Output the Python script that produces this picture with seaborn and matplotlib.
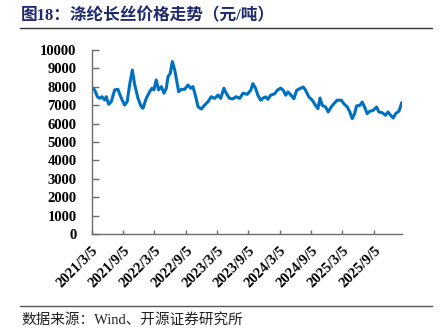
import matplotlib
matplotlib.use("Agg")
import matplotlib.pyplot as plt
import seaborn as sns
import pandas as pd

# 涤纶长丝价格（元/吨）
dates = [
    "2021-03-05", "2021-03-22", "2021-04-07", "2021-04-21", "2021-05-04", "2021-05-20",
    "2021-05-29", "2021-06-12", "2021-06-27", "2021-07-17", "2021-08-05", "2021-08-25",
    "2021-09-13", "2021-09-28", "2021-10-12", "2021-10-28", "2021-11-11", "2021-11-30",
    "2021-12-19", "2021-12-29", "2022-01-17", "2022-02-06", "2022-02-19", "2022-03-03",
    "2022-03-16", "2022-03-30", "2022-04-15", "2022-04-30", "2022-05-14", "2022-05-24",
    "2022-06-06", "2022-06-18", "2022-07-02", "2022-07-11", "2022-07-25", "2022-08-09",
    "2022-08-29", "2022-09-17", "2022-10-03", "2022-10-16", "2022-10-30", "2022-11-15",
    "2022-12-04", "2022-12-24", "2023-01-12", "2023-01-31", "2023-02-20", "2023-03-11",
    "2023-03-27", "2023-04-15", "2023-04-28", "2023-05-18", "2023-06-06", "2023-06-26",
    "2023-07-16", "2023-08-04", "2023-08-29", "2023-09-18", "2023-10-01", "2023-10-17",
    "2023-10-30", "2023-11-15", "2023-11-30", "2023-12-14", "2023-12-27", "2024-01-12",
    "2024-02-05", "2024-02-20", "2024-03-10", "2024-03-26", "2024-04-09", "2024-04-22",
    "2024-05-08", "2024-05-27", "2024-06-12", "2024-07-01", "2024-07-20", "2024-08-03",
    "2024-08-22", "2024-09-11", "2024-09-30", "2024-10-14", "2024-10-26", "2024-11-08",
    "2024-11-28", "2024-12-13", "2024-12-30", "2025-01-15", "2025-02-03", "2025-02-27",
    "2025-03-14", "2025-04-03", "2025-04-18", "2025-05-02", "2025-05-16", "2025-05-27",
    "2025-06-16", "2025-06-29", "2025-07-13", "2025-07-28", "2025-08-13", "2025-09-01",
    "2025-09-21", "2025-10-04", "2025-10-24", "2025-11-12", "2025-11-26", "2025-12-12",
    "2025-12-27", "2026-01-10", "2026-01-29", "2026-02-15",
]
prices = [
    7970, 7830, 7460, 7370, 7460, 7280,
    7460, 7050, 7190, 7830, 7860, 7370,
    7010, 7190, 8100, 8910, 8100, 7370,
    6920, 6830, 7370, 7730, 7920, 7830,
    8370, 7830, 8010, 7650, 7920, 8550,
    8730, 9370, 8910, 8460, 7730, 7860,
    7860, 8100, 7920, 8010, 7550, 6920,
    6790, 7010, 7190, 7460, 7370, 7550,
    7370, 7920, 7650, 7370, 7340, 7460,
    7370, 7650, 7590, 7810, 8170, 7900,
    7540, 7270, 7390, 7450, 7320, 7540,
    7620, 7810, 7930, 7810, 7540, 7720,
    7570, 7350, 7810, 7900, 7990, 7810,
    7450, 7270, 6990, 6810, 7390, 6990,
    6900, 6630, 6900, 7080, 7270, 7270,
    7080, 6900, 6630, 6270, 6540, 6960,
    6990, 7170, 6900, 6540, 6670, 6720,
    6900, 6630, 6590, 6450, 6630, 6450,
    6300, 6540, 6670, 7140,
]
tick_dates = ["2021-03-05", "2021-09-05", "2022-03-05", "2022-09-05", "2023-03-05",
              "2023-09-05", "2024-03-05", "2024-09-05", "2025-03-05", "2025-09-05"]
tick_labels = ["2021/3/5", "2021/9/5", "2022/3/5", "2022/9/5", "2023/3/5",
               "2023/9/5", "2024/3/5", "2024/9/5", "2025/3/5", "2025/9/5"]
y_ticks = list(range(0, 10001, 1000))

title_text = "图18：涤纶长丝价格走势（元/吨）"
source_text = "数据来源：Wind、开源证券研究所"

df = pd.DataFrame({"date": pd.to_datetime(dates), "price": prices})

sns.set_theme(style="white")
plt.rcParams["font.family"] = ["Liberation Serif", "Noto Sans CJK SC", "DejaVu Sans"]

fig = plt.figure(figsize=(4.43, 3.34), dpi=100)
ax = fig.add_axes([0.207, 0.2994, 0.700, 0.551])

sns.lineplot(data=df, x="date", y="price", ax=ax, color="#0070C0", linewidth=2.2)

ax.set_xlim(df["date"].iloc[0], df["date"].iloc[-1])
ax.set_ylim(0, 10000)
ax.set_xlabel("")
ax.set_ylabel("")

ax.set_yticks(y_ticks)
ax.set_yticklabels([str(v) for v in y_ticks], fontsize=10.5, fontweight="bold",
                   family="Liberation Serif", color="black")
ax.set_xticks(pd.to_datetime(tick_dates))
ax.set_xticklabels(tick_labels, rotation=45, ha="right", rotation_mode="anchor",
                   fontsize=10.5, fontweight="bold", family="Liberation Serif", color="black")

for side in ["top", "right"]:
    ax.spines[side].set_visible(False)
for side in ["left", "bottom"]:
    ax.spines[side].set_color("#6b6b6b")
    ax.spines[side].set_linewidth(1.0)
ax.tick_params(axis="y", direction="in", length=5, width=1, color="#6b6b6b", pad=11,
               left=True)
ax.tick_params(axis="x", direction="in", length=3, width=1, color="#6b6b6b", pad=7,
               bottom=True)

fig.text(0.048, 0.953, title_text, fontsize=12, fontweight="bold", color="#1F2A6E",
         family=["Liberation Serif", "Noto Sans CJK SC"], va="center", ha="left")
fig.add_artist(plt.Line2D([0.045, 0.975], [0.916, 0.916], color="#333333", linewidth=1.0))
fig.add_artist(plt.Line2D([0.045, 0.975], [0.084, 0.084], color="#555555", linewidth=1.0))
fig.text(0.048, 0.042, source_text, fontsize=10.5, color="#222222",
         family=["Liberation Serif", "Noto Sans CJK SC"], va="center", ha="left")

fig.savefig("out.png", dpi=100)
